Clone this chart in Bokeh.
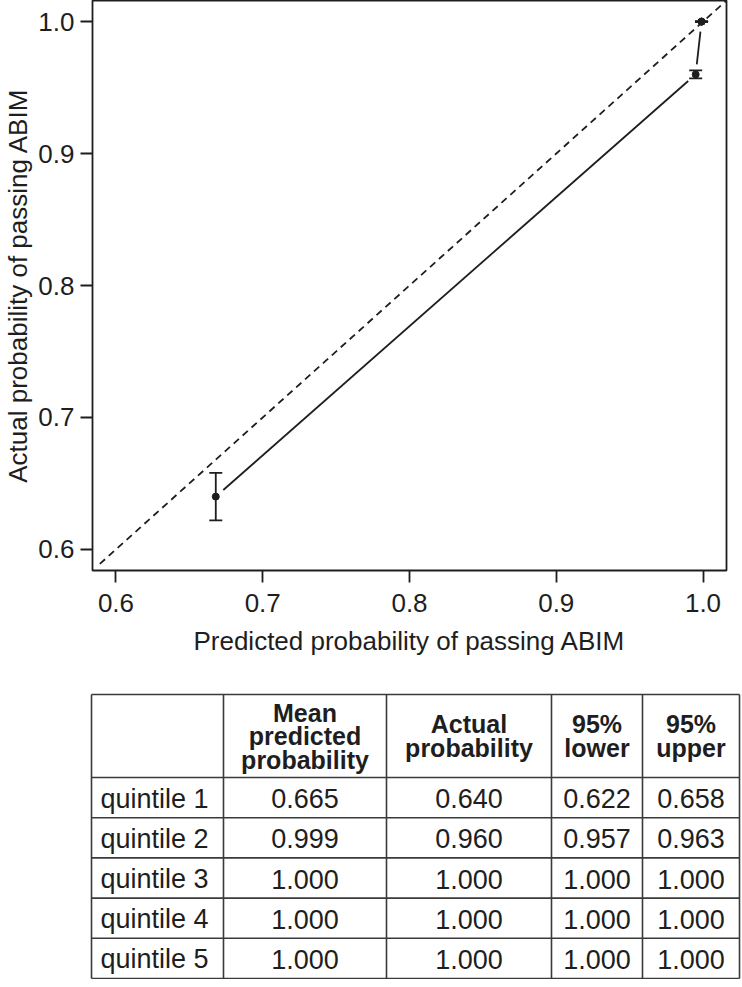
import math
from bokeh.plotting import figure
from bokeh.models import Range1d, FixedTicker, PrintfTickFormatter, ColumnDataSource, Whisker, TeeHead
from bokeh.embed import file_html
from bokeh.resources import INLINE
from bokeh.core.properties import value

# ---------------- data ----------------
quintiles = ["quintile 1", "quintile 2", "quintile 3", "quintile 4", "quintile 5"]
mean_predicted = ["0.665", "0.999", "1.000", "1.000", "1.000"]
actual_prob = ["0.640", "0.960", "1.000", "1.000", "1.000"]
lower_95 = ["0.622", "0.957", "1.000", "1.000", "1.000"]
upper_95 = ["0.658", "0.963", "1.000", "1.000", "1.000"]
header_lines = [["Mean", "predicted", "probability"], ["Actual", "probability"],
                ["95%", "lower"], ["95%", "upper"]]

# plotted positions
plot_pred = [0.668, 0.995, 0.999, 0.999, 0.999]
plot_actual = [0.640, 0.960, 1.000, 1.000, 1.000]
plot_lower = [0.622, 0.957, 1.000, 1.000, 1.000]
plot_upper = [0.658, 0.963, 1.000, 1.000, 1.000]
reference_line = [0.589, 1.016]
x_ticks = [0.6, 0.7, 0.8, 0.9, 1.0]
y_ticks = [0.6, 0.7, 0.8, 0.9, 1.0]

FONT = "Liberation Sans"
INK = "#1e1e1e"
LW = 1.8

# ---------------- plot ----------------
X0, X1 = 0.584, 1.016
Y0, Y1 = 0.584, 1.016
FRAME_W, FRAME_H = 634, 570
BL, BR, BT, BB = 90, 10, 0, 116

p = figure(frame_width=FRAME_W, frame_height=FRAME_H, output_backend="svg", toolbar_location=None,
           x_range=Range1d(X0, X1), y_range=Range1d(Y0, Y1),
           min_border_left=BL, min_border_right=BR, min_border_top=BT, min_border_bottom=BB)
p.grid.visible = False
p.outline_line_color = INK
p.outline_line_width = LW
p.background_fill_color = "white"
p.border_fill_color = "white"

for ax, ticks in ((p.xaxis, x_ticks), (p.yaxis, y_ticks)):
    ax.ticker = FixedTicker(ticks=ticks)
    ax.formatter = PrintfTickFormatter(format="%.1f")
    ax.axis_line_color = None
    ax.major_tick_in = 0
    ax.major_tick_out = 12
    ax.major_tick_line_color = INK
    ax.major_tick_line_width = LW
    ax.minor_tick_line_color = None
    ax.major_label_text_font = FONT
    ax.major_label_text_font_size = "26px"
    ax.major_label_text_color = INK
    ax.axis_label_text_font = FONT
    ax.axis_label_text_font_size = "26px"
    ax.axis_label_text_font_style = "normal"
    ax.axis_label_text_color = INK

p.xaxis.axis_label = "Predicted probability of passing ABIM"
p.yaxis.axis_label = "Actual probability of passing ABIM"
p.xaxis.major_label_standoff = 11
p.xaxis.axis_label_standoff = 11
p.yaxis.major_label_standoff = 6
p.yaxis.axis_label_standoff = 2

# diagonal reference
p.line(reference_line, reference_line, line_color=INK, line_width=LW, line_dash="7 5")

# connecting line with gaps around the points (type "b")
sx = FRAME_W / (X1 - X0)
sy = FRAME_H / (Y1 - Y0)
gap = 10
seg = dict(x0=[], y0=[], x1=[], y1=[])
for i in range(len(plot_pred) - 1):
    dxd = plot_pred[i + 1] - plot_pred[i]
    dyd = plot_actual[i + 1] - plot_actual[i]
    L = math.hypot(dxd * sx, dyd * sy)
    if L <= 2 * gap:
        continue
    f = gap / L
    seg["x0"].append(plot_pred[i] + dxd * f)
    seg["y0"].append(plot_actual[i] + dyd * f)
    seg["x1"].append(plot_pred[i + 1] - dxd * f)
    seg["y1"].append(plot_actual[i + 1] - dyd * f)
p.segment("x0", "y0", "x1", "y1", source=ColumnDataSource(seg), line_color=INK, line_width=LW)

# error bars
src = ColumnDataSource(dict(x=plot_pred, y=plot_actual, lo=plot_lower, up=plot_upper))
wh = Whisker(source=src, base="x", lower="lo", upper="up", dimension="height",
             line_color=INK, line_width=LW,
             upper_head=TeeHead(size=13, line_color=INK, line_width=LW),
             lower_head=TeeHead(size=13, line_color=INK, line_width=LW))
p.add_layout(wh)
p.scatter("x", "y", source=src, size=7, fill_color=INK, line_color=INK)

# ---------------- table ----------------
TW, TH = 742, 293
t = figure(frame_width=TW, frame_height=TH, output_backend="svg", toolbar_location=None,
           x_range=Range1d(0, TW), y_range=Range1d(TH, 0),
           x_axis_location=None, y_axis_location=None,
           min_border_left=0, min_border_right=0, min_border_top=0, min_border_bottom=0)
t.grid.visible = False
t.outline_line_color = None
t.background_fill_color = "white"
t.border_fill_color = "white"

col_edges = [91, 223, 386, 551, 642, 739]
top = 8
header_bottom = 91
row_h = 40.2
row_edges = [header_bottom + k * row_h for k in range(len(quintiles) + 1)]
table_bottom = row_edges[-1]
LINE = "#3a3a3a"

# vertical lines
t.segment(x0=col_edges, y0=[top] * len(col_edges), x1=col_edges, y1=[table_bottom] * len(col_edges),
          line_color=LINE, line_width=1.6)
# horizontal lines
hy = [top] + row_edges
t.segment(x0=[col_edges[0]] * len(hy), y0=hy, x1=[col_edges[-1]] * len(hy), y1=hy,
          line_color=LINE, line_width=1.6)

# header text
hx, hyy, htxt = [], [], []
line_gap = 23.5
hc = (top + header_bottom) / 2
for j, lines in enumerate(header_lines):
    cx = (col_edges[j + 1] + col_edges[j + 2]) / 2
    n = len(lines)
    for k, s in enumerate(lines):
        hx.append(cx)
        hyy.append(hc + (k - (n - 1) / 2) * line_gap)
        htxt.append(s)
t.text(x=hx, y=hyy, text=htxt, text_align="center", text_baseline="middle",
       text_font=value(FONT), text_font_size="25px", text_font_style="bold", text_color=INK)

# body text
cols = [mean_predicted, actual_prob, lower_95, upper_95]
bx, by, btxt = [], [], []
for r in range(len(quintiles)):
    cy = (row_edges[r] + row_edges[r + 1]) / 2 + 1
    for j, c in enumerate(cols):
        bx.append((col_edges[j + 1] + col_edges[j + 2]) / 2)
        by.append(cy)
        btxt.append(c[r])
t.text(x=bx, y=by, text=btxt, text_align="center", text_baseline="middle",
       text_font=value(FONT), text_font_size="27px", text_color=INK)
t.text(x=[col_edges[0] + 9] * len(quintiles),
       y=[(row_edges[r] + row_edges[r + 1]) / 2 + 1 for r in range(len(quintiles))],
       text=quintiles, text_align="left", text_baseline="middle",
       text_font=value(FONT), text_font_size="27px", text_color=INK)

open("out.html", "w").write(file_html([p, t], INLINE))
